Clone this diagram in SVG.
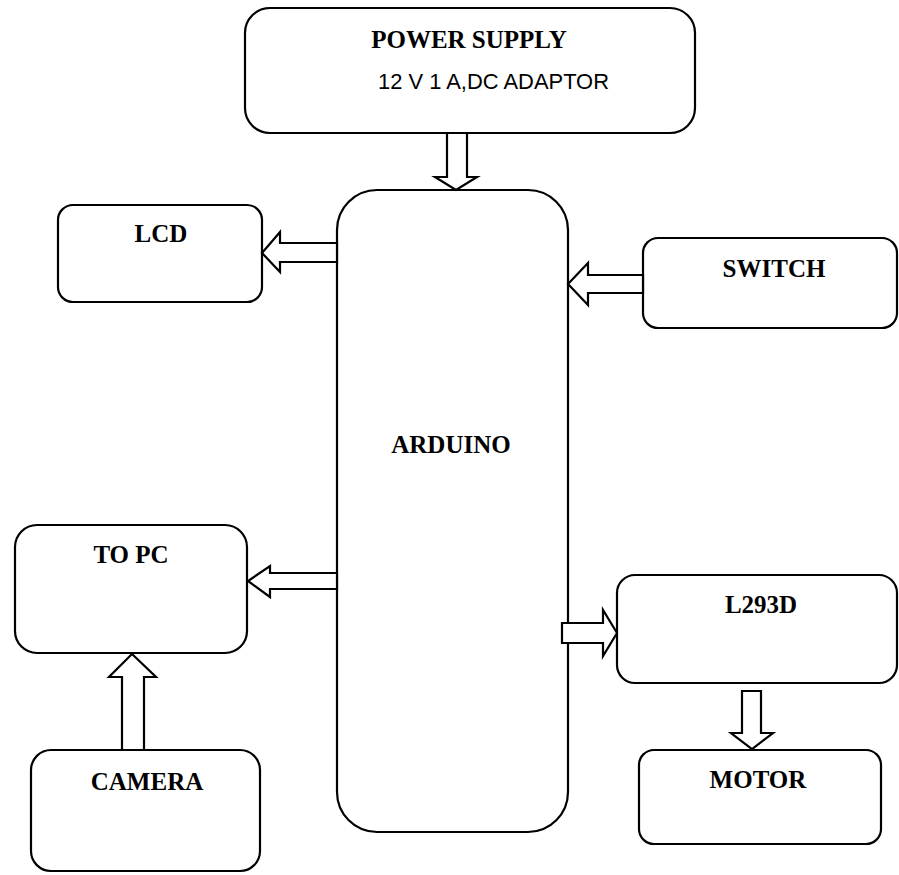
<svg xmlns="http://www.w3.org/2000/svg" width="899" height="875" viewBox="0 0 899 875">
<style>
.box{fill:#fff;stroke:#000;stroke-width:2.2}
.arr{fill:#fff;stroke:#000;stroke-width:2.2;stroke-linejoin:miter}
.t{font-family:"Liberation Serif","Times New Roman",serif;font-weight:bold;font-size:25px;fill:#000;text-anchor:middle}
.s{font-family:"Liberation Sans",Arial,sans-serif;font-size:21.5px;fill:#000}
</style>
<rect width="899" height="875" fill="#fff"/>
<g id="power">
<rect class="box" x="245" y="8" width="450" height="125" rx="25"/>
<text class="t" x="469" y="48">POWER SUPPLY</text>
<text class="s" x="378" y="89" textLength="231" lengthAdjust="spacingAndGlyphs">12 V 1 A,DC ADAPTOR</text>
</g>
<g id="arduino">
<rect class="box" x="337" y="190" width="231" height="642" rx="40"/>
<text class="t" x="451" y="453">ARDUINO</text>
</g>
<g id="lcd">
<rect class="box" x="58" y="205" width="204" height="97" rx="15"/>
<text class="t" x="161" y="242">LCD</text>
</g>
<g id="switch">
<rect class="box" x="643" y="238" width="254" height="90" rx="15"/>
<text class="t" x="774" y="277">SWITCH</text>
</g>
<g id="topc">
<rect class="box" x="15" y="525" width="232" height="128" rx="22"/>
<text class="t" x="131" y="563">TO PC</text>
</g>
<g id="camera">
<rect class="box" x="31" y="750" width="229" height="121" rx="20"/>
<text class="t" x="147" y="790">CAMERA</text>
</g>
<g id="l293d">
<rect class="box" x="617" y="575" width="280" height="108" rx="18"/>
<text class="t" x="761" y="613">L293D</text>
</g>
<g id="motor">
<rect class="box" x="639" y="750" width="242" height="94" rx="15"/>
<text class="t" x="758" y="788">MOTOR</text>
</g>
<g id="connectors">
<polygon class="arr" points="447,133 467,133 467,177 477,177 456,190 435,177 447,177"/>
<polygon class="arr" points="337,243 280,243 280,232 262,253 280,272 280,262 337,262"/>
<polygon class="arr" points="643,275 588,275 588,263 568,284 588,305 588,293 643,293"/>
<polygon class="arr" points="337,573 270,573 270,566 248,581 270,597 270,589 337,589"/>
<polygon class="arr" points="122,750 122,677 109,677 132,654 156,677 144,677 144,750"/>
<polygon class="arr" points="562,623 603,623 603,610 617,633 603,656 603,643 562,643"/>
<polygon class="arr" points="742,691 761,691 761,733 773,733 752,749 731,733 742,733"/>
</g>
</svg>
